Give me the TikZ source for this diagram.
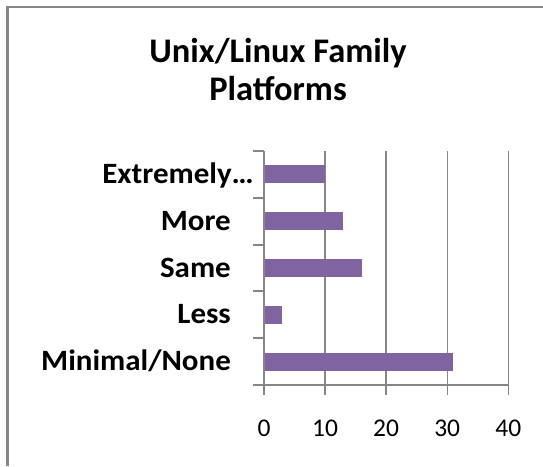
\documentclass[tikz,border=0pt]{standalone}
\usepackage{fontspec}
\setmainfont{Carlito}
\newfontfamily\catfont[FakeStretch=1.05]{Carlito}
\definecolor{barpurple}{HTML}{8064A2}
\definecolor{gridgray}{HTML}{868686}
\tikzset{
  frameline/.style={draw=gridgray},
  gridline/.style={draw=gridgray, line width=1.4pt},
  axisline/.style={draw=gridgray, line width=2pt},
  bar/.style={fill=barpurple, draw=none},
  titletext/.style={anchor=base, inner sep=0pt, font=\fontsize{34.5}{41}\selectfont\bfseries},
  cattext/.style={anchor=base east, inner sep=0pt, font=\catfont\fontsize{29.5}{35}\selectfont\bfseries},
  numtext/.style={anchor=base, inner sep=0pt, font=\fontsize{25.5}{30}\selectfont},
}
\begin{document}
\begin{tikzpicture}[x=1pt,y=-1pt]
\useasboundingbox (0,0) rectangle (543,466);
% chart frame (partly cut off)
\draw[frameline, line width=3pt] (7.5,6) -- (7.5,466);
\draw[frameline, line width=2pt] (6,7) -- (543,7);
% title
\node[titletext] (t1) at (278,62) {Unix/Linux Family};
\node[titletext] (t2) at (278,100) {Platforms};
% vertical gridlines with ticks below axis
\foreach \v/\n in {10/a,20/b,30/c,40/d} {
  \coordinate (gt\n) at ({264+6.1075*\v},151);
  \coordinate (gb\n) at ({264+6.1075*\v},395);
  \draw[gridline] (gt\n) -- (gb\n);
}
% bars
\foreach \i/\v/\n in {0/10/ext,1/13/mor,2/16/sam,3/3/les,4/31/min} {
  \path[bar] (264,{151+46.8*(\i+0.5)-9}) rectangle ({264+6.1075*\v},{151+46.8*(\i+0.5)+9}) coordinate (bar\n);
}
% axes
\coordinate (vtop) at (264,151);
\coordinate (vbot) at (264,395);
\coordinate (hleft) at (253,385);
\coordinate (hright) at (508.3,385);
\draw[axisline] (vtop) -- (vbot);
\draw[axisline] (hleft) -- (hright);
\foreach \i in {0,...,4} {
  \coordinate (tl\i) at (253,{151+46.8*\i});
  \coordinate (tr\i) at (264,{151+46.8*\i});
  \draw[axisline] (tl\i) -- (tr\i);
}
% category labels
\node[cattext] (lext) at (254,183.4) {Extremely…};
\node[cattext] (lmor) at (231,230.2) {More};
\node[cattext] (lsam) at (231,277) {Same};
\node[cattext] (lles) at (231,323.8) {Less};
\node[cattext] (lmin) at (231,370.6) {Minimal/None};
% value labels
\foreach \v in {0,10,20,30,40} {
  \node[numtext] (n\v) at ({264+6.1075*\v},436) {\v};
}
\end{tikzpicture}
\end{document}
